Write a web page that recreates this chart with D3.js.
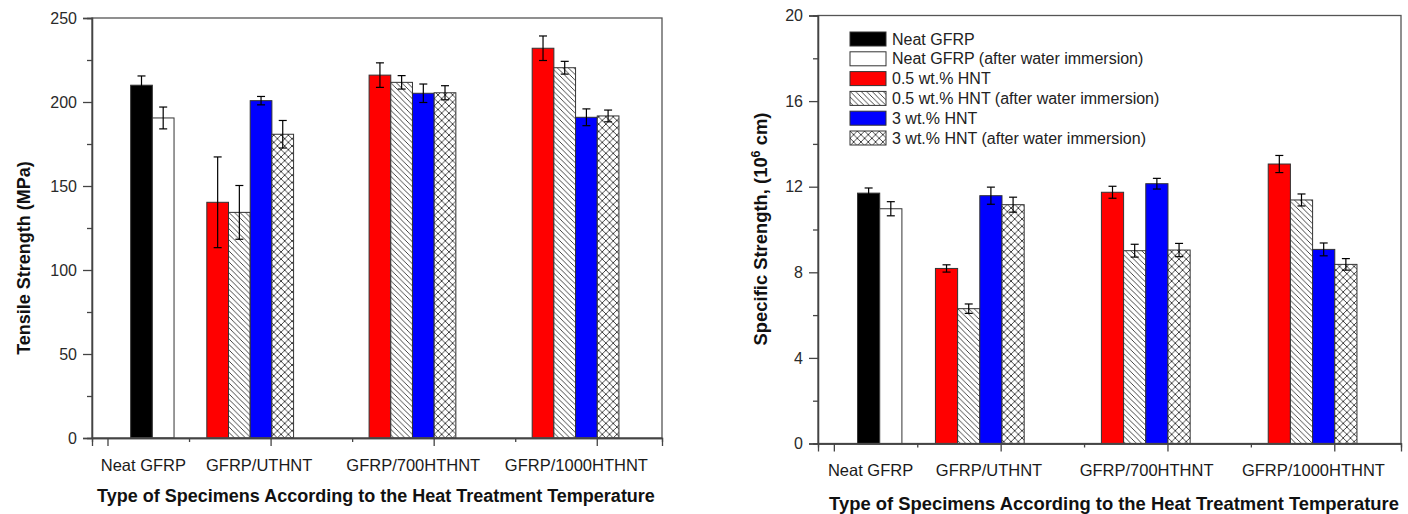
<!DOCTYPE html>
<html>
<head>
<meta charset="utf-8">
<script src="https://cdn.jsdelivr.net/npm/d3@7/dist/d3.min.js"></script>
<style>
  html, body { margin: 0; padding: 0; background: #fff; }
  svg { display: block; font-family: "Liberation Sans", Arial, sans-serif; }
</style>
</head>
<body>
<svg id="chart" width="1408" height="514"></svg>
<script>
// Specimen groups and their label positions on the numeric x axis
const categories = ["Neat GFRP", "GFRP/UTHNT", "GFRP/700HTHNT", "GFRP/1000HTHNT"];
const groupPos = [0.55, 1.75, 3.74, 5.74];
const labelPos = [0.44, 1.86, 3.75, 5.75];

const seriesNames = [
  "Neat GFRP",
  "Neat GFRP (after water immersion)",
  "0.5 wt.% HNT",
  "0.5 wt.% HNT (after water immersion)",
  "3 wt.% HNT",
  "3 wt.% HNT (after water immersion)"
];
const seriesFill = ["#000000", "#ffffff", "#ff0000", "url(#hatch)", "#0000ff", "url(#cross)"];

// Tensile strength (MPa), one value per category (null = not tested)
const tensileNeat      = [210.0, null, null, null];
const tensileNeatWet   = [190.5, null, null, null];
const tensileHnt05     = [null, 140.3, 216.0, 232.0];
const tensileHnt05Wet  = [null, 134.3, 211.7, 220.4];
const tensileHnt3      = [null, 200.8, 205.2, 190.9];
const tensileHnt3Wet   = [null, 180.8, 205.5, 191.7];
const tensileErrNeat     = [5.5, null, null, null];
const tensileErrNeatWet  = [6.5, null, null, null];
const tensileErrHnt05    = [null, 27.0, 7.3, 7.3];
const tensileErrHnt05Wet = [null, 16.0, 4.0, 3.8];
const tensileErrHnt3     = [null, 2.5, 5.5, 5.0];
const tensileErrHnt3Wet  = [null, 8.2, 4.2, 3.5];

// Specific strength (10^6 cm)
const specificNeat      = [11.70, null, null, null];
const specificNeatWet   = [10.97, null, null, null];
const specificHnt05     = [null, 8.18, 11.74, 13.06];
const specificHnt05Wet  = [null, 6.30, 9.01, 11.38];
const specificHnt3      = [null, 11.58, 12.14, 9.07];
const specificHnt3Wet   = [null, 11.16, 9.04, 8.37];
const specificErrNeat     = [0.24, null, null, null];
const specificErrNeatWet  = [0.33, null, null, null];
const specificErrHnt05    = [null, 0.17, 0.28, 0.40];
const specificErrHnt05Wet = [null, 0.22, 0.30, 0.28];
const specificErrHnt3     = [null, 0.40, 0.25, 0.30];
const specificErrHnt3Wet  = [null, 0.35, 0.31, 0.27];

const tensileTicks = [0, 50, 100, 150, 200, 250];
const specificTicks = [0, 4, 8, 12, 16, 20];

const barWidth = 0.266;
const xDomain = [-0.19, 6.8];
const xMajor = [0, 2, 4, 6];
const xMinor = [1, 3, 5];

const svg = d3.select("#chart");

// Hatch patterns for the water-immersed HNT series
const defs = svg.append("defs");
const hatch = defs.append("pattern").attr("id", "hatch")
  .attr("patternUnits", "userSpaceOnUse").attr("width", 5.5).attr("height", 5.5);
hatch.append("rect").attr("width", 5.5).attr("height", 5.5).attr("fill", "#fff");
hatch.append("path").attr("d", "M-1,-1L6.5,6.5M-1,4.5L1,6.5M4.5,-1L6.5,1")
  .attr("stroke", "#333").attr("stroke-width", 0.9).attr("fill", "none");

const cross = defs.append("pattern").attr("id", "cross")
  .attr("patternUnits", "userSpaceOnUse").attr("width", 7.3).attr("height", 7.3);
cross.append("rect").attr("width", 7.3).attr("height", 7.3).attr("fill", "#fff");
cross.append("path").attr("d", "M0,0L7.3,7.3M7.3,0L0,7.3")
  .attr("stroke", "#333").attr("stroke-width", 0.9).attr("fill", "none");

function buildBars(values, errors) {
  const bars = [];
  categories.forEach((cat, ci) => {
    const present = values.map((s, si) => ({ si, v: s[ci], e: errors[si][ci] }))
      .filter(d => d.v !== null);
    const start = groupPos[ci] - present.length * barWidth / 2;
    present.forEach((d, k) => {
      bars.push({ series: d.si, x0: start + k * barWidth, v: d.v, e: d.e });
    });
  });
  return bars;
}

function drawPanel(cfg) {
  const g = svg.append("g");
  const x = d3.scaleLinear().domain(xDomain).range([cfg.left, cfg.right]);
  const y = d3.scaleLinear().domain([0, cfg.yMax]).range([cfg.bottom, cfg.top]);

  const bars = buildBars(cfg.values, cfg.errors);

  g.selectAll("rect.bar").data(bars).enter().append("rect")
    .attr("class", "bar")
    .attr("x", d => x(d.x0))
    .attr("width", d => x(d.x0 + barWidth) - x(d.x0))
    .attr("y", d => y(d.v))
    .attr("height", d => y(0) - y(d.v))
    .attr("fill", d => seriesFill[d.series])
    .attr("stroke", "#333").attr("stroke-width", 1);

  // error bars
  const eb = g.selectAll("g.err").data(bars).enter().append("g").attr("class", "err")
    .attr("stroke", "#000").attr("stroke-width", 1.2);
  eb.append("line")
    .attr("x1", d => x(d.x0 + barWidth / 2)).attr("x2", d => x(d.x0 + barWidth / 2))
    .attr("y1", d => y(d.v + d.e)).attr("y2", d => y(d.v - d.e));
  eb.append("line")
    .attr("x1", d => x(d.x0 + barWidth / 2) - 4).attr("x2", d => x(d.x0 + barWidth / 2) + 4)
    .attr("y1", d => y(d.v + d.e)).attr("y2", d => y(d.v + d.e));
  eb.append("line")
    .attr("x1", d => x(d.x0 + barWidth / 2) - 4).attr("x2", d => x(d.x0 + barWidth / 2) + 4)
    .attr("y1", d => y(d.v - d.e)).attr("y2", d => y(d.v - d.e));

  // frame
  g.append("rect")
    .attr("x", cfg.left).attr("y", cfg.top)
    .attr("width", cfg.right - cfg.left).attr("height", cfg.bottom - cfg.top)
    .attr("fill", "none").attr("stroke", "#555").attr("stroke-width", 1.3);

  // y axis: major ticks with labels, minor ticks between them
  const step = cfg.ticks[1] - cfg.ticks[0];
  const minorY = cfg.ticks.slice(0, -1).map(t => t + step / 2);
  const yAxis = g.append("g").attr("transform", `translate(${cfg.left},0)`)
    .call(d3.axisLeft(y).tickValues(cfg.ticks).tickSize(9).tickPadding(6));
  const yMinor = g.append("g").attr("transform", `translate(${cfg.left},0)`)
    .call(d3.axisLeft(y).tickValues(minorY).tickSize(5).tickFormat(""));
  [yAxis, yMinor].forEach(a => {
    a.select(".domain").attr("stroke", "#444").attr("stroke-width", 1.3);
    a.selectAll(".tick line").attr("stroke", "#444").attr("stroke-width", 1.3);
  });
  yAxis.selectAll(".tick text")
    .attr("font-size", 16).attr("fill", "#2a2a2a")
    .attr("font-family", "Liberation Sans, Arial, sans-serif");

  // x axis: unlabeled major/minor ticks
  const xAxis = g.append("g").attr("transform", `translate(0,${cfg.bottom})`)
    .call(d3.axisBottom(x).tickValues(xMajor).tickSize(8).tickFormat(""));
  const xMin = g.append("g").attr("transform", `translate(0,${cfg.bottom})`)
    .call(d3.axisBottom(x).tickValues(xMinor).tickSize(4).tickFormat(""));
  [xAxis, xMin].forEach(a => {
    a.select(".domain").attr("stroke", "#444").attr("stroke-width", 1.3);
    a.selectAll(".tick line").attr("stroke", "#444").attr("stroke-width", 1.3);
  });

  // category names
  g.selectAll("text.cat").data(categories).enter().append("text")
    .attr("class", "cat")
    .attr("x", (d, i) => x(labelPos[i]))
    .attr("y", cfg.catY)
    .attr("text-anchor", "middle")
    .attr("font-size", 16.5).attr("fill", "#1a1a1a")
    .text(d => d);

  // axis titles
  g.append("text")
    .attr("x", cfg.xTitleX).attr("y", cfg.xTitleY)
    .attr("text-anchor", "middle").attr("font-weight", "bold")
    .attr("font-size", cfg.xTitleSize).attr("fill", "#111")
    .text("Type of Specimens According to the Heat Treatment Temperature");

  const yt = g.append("text")
    .attr("transform", `translate(${cfg.yTitleX},${cfg.yTitleY}) rotate(-90)`)
    .attr("dy", "0.35em")
    .attr("text-anchor", "middle").attr("font-weight", "bold")
    .attr("font-size", cfg.yTitleSize).attr("fill", "#111");
  cfg.yTitle(yt);

  return { x, y, g };
}

drawPanel({
  left: 92, right: 662, top: 18, bottom: 438, yMax: 250,
  ticks: tensileTicks,
  values: [tensileNeat, tensileNeatWet, tensileHnt05, tensileHnt05Wet, tensileHnt3, tensileHnt3Wet],
  errors: [tensileErrNeat, tensileErrNeatWet, tensileErrHnt05, tensileErrHnt05Wet, tensileErrHnt3, tensileErrHnt3Wet],
  catY: 471,
  xTitleX: 376, xTitleY: 502, xTitleSize: 18,
  yTitleX: 24, yTitleY: 258, yTitleSize: 18,
  yTitle: t => t.text("Tensile Strength (MPa)")
});

drawPanel({
  left: 818, right: 1401, top: 15.5, bottom: 443.5, yMax: 20,
  ticks: specificTicks,
  values: [specificNeat, specificNeatWet, specificHnt05, specificHnt05Wet, specificHnt3, specificHnt3Wet],
  errors: [specificErrNeat, specificErrNeatWet, specificErrHnt05, specificErrHnt05Wet, specificErrHnt3, specificErrHnt3Wet],
  catY: 476,
  xTitleX: 1114, xTitleY: 510, xTitleSize: 18.4,
  yTitleX: 761, yTitleY: 229, yTitleSize: 18.4,
  yTitle: t => {
    t.append("tspan").text("Specific Strength, (10");
    t.append("tspan").attr("font-size", 12.5).attr("dy", -7).text("6");
    t.append("tspan").attr("dy", 7).text(" cm)");
  }
});

// legend in the right panel
const legend = svg.append("g").attr("transform", "translate(850,32)");
const rows = legend.selectAll("g").data(seriesNames).enter().append("g")
  .attr("transform", (d, i) => `translate(0,${i * 19.8})`);
rows.append("rect")
  .attr("width", 36).attr("height", 14)
  .attr("fill", (d, i) => seriesFill[i])
  .attr("stroke", "#333").attr("stroke-width", 1);
rows.append("text")
  .attr("x", 42).attr("y", 12.5)
  .attr("font-size", 16).attr("fill", "#222")
  .text(d => d);
</script>
</body>
</html>
